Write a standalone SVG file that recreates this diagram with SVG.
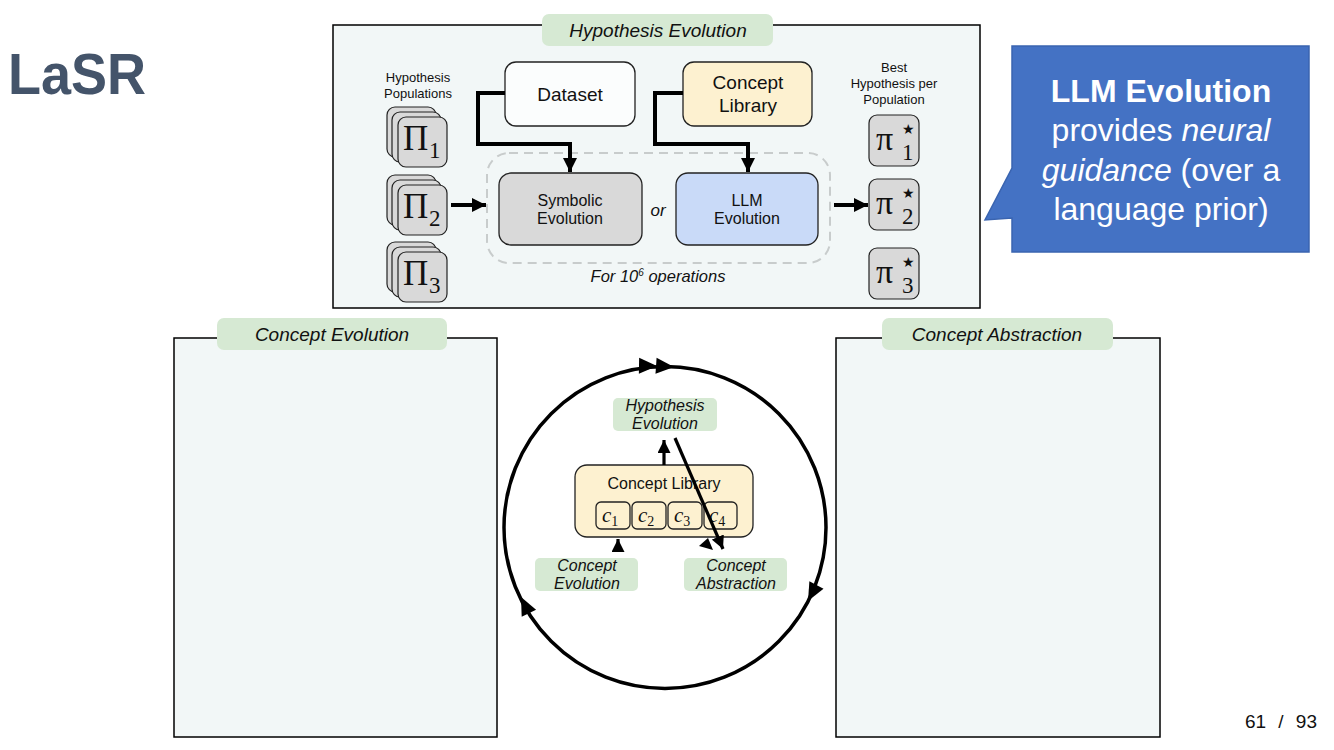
<svg xmlns="http://www.w3.org/2000/svg" width="1334" height="750" viewBox="0 0 1334 750">
<defs>
<style>
text{font-family:"Liberation Sans",Arial,sans-serif;fill:#111}
.panel{fill:#f2f7f7;stroke:#000;stroke-width:1.5}
.tab{fill:#d6e9d3}
.tabt{font-style:italic;font-size:19px;text-anchor:middle}
.box{stroke:#222;stroke-width:1.3}
.gray{fill:#d9d9d9}
.card{fill:#d9d9d9;stroke:#222;stroke-width:1.2}
.lib{fill:#fdf1d0}
.math{font-family:"Liberation Serif","DejaVu Serif",serif}
.small{font-size:13px;text-anchor:middle}
.mid{text-anchor:middle}
.thick{fill:none;stroke:#000;stroke-width:4}
.med{fill:none;stroke:#000;stroke-width:3.2}
.call{font-size:32px;fill:#fff;text-anchor:middle}
.it{font-style:italic}
.star{font-family:"DejaVu Sans",sans-serif;font-size:14px}
</style>
<marker id="ah" viewBox="0 0 10 10" refX="10" refY="5" markerWidth="14" markerHeight="14" markerUnits="userSpaceOnUse" orient="auto">
<path d="M0,0 L10,5 L0,10 z" fill="#000"/>
</marker>
<marker id="ahs" viewBox="0 0 10 10" refX="10" refY="5" markerWidth="13" markerHeight="13" markerUnits="userSpaceOnUse" orient="auto">
<path d="M0,0 L10,5 L0,10 z" fill="#000"/>
</marker>
<path id="cah" d="M0,0 L-18,-8 L-18,8 z" fill="#000"/>
</defs>
<rect width="1334" height="750" fill="#fff"/>

<g id="title"><text x="8" y="94" font-size="57" font-weight="bold" style="fill:#44546a" textLength="138" lengthAdjust="spacingAndGlyphs">LaSR</text></g>

<!-- Top panel -->
<g id="panel-hypothesis">
<rect class="panel" x="333" y="25" width="647" height="283"/>
<rect class="tab" x="542" y="14" width="231" height="32" rx="7"/>
<text class="tabt" x="658" y="37">Hypothesis Evolution</text>
</g>

<g id="label-populations">
<text class="small" x="418" y="82">Hypothesis</text>
<text class="small" x="418" y="98">Populations</text>
</g>

<g id="pi1">
<rect class="card" x="387" y="107" width="49" height="50" rx="8"/>
<rect class="card" x="392" y="112" width="49" height="50" rx="8"/>
<rect class="card" x="398" y="117" width="49" height="50" rx="8"/>
<text class="math" x="403" y="150" font-size="35">Π</text>
<text class="math" x="429" y="158" font-size="23">1</text>
</g>
<g id="pi2">
<rect class="card" x="387" y="175" width="49" height="50" rx="8"/>
<rect class="card" x="392" y="180" width="49" height="50" rx="8"/>
<rect class="card" x="398" y="185" width="49" height="50" rx="8"/>
<text class="math" x="403" y="218" font-size="35">Π</text>
<text class="math" x="429" y="226" font-size="23">2</text>
</g>
<g id="pi3">
<rect class="card" x="387" y="242" width="49" height="50" rx="8"/>
<rect class="card" x="392" y="247" width="49" height="50" rx="8"/>
<rect class="card" x="398" y="252" width="49" height="50" rx="8"/>
<text class="math" x="403" y="285" font-size="35">Π</text>
<text class="math" x="429" y="293" font-size="23">3</text>
</g>

<g id="dataset">
<rect class="box" x="505" y="62" width="130" height="64" rx="11" fill="#fbfdfd"/>
<text class="mid" x="570" y="101" font-size="19">Dataset</text>
</g>
<g id="concept-library">
<rect class="box lib" x="683" y="62" width="129" height="64" rx="11"/>
<text class="mid" x="748" y="89" font-size="19">Concept</text>
<text class="mid" x="748" y="112" font-size="19">Library</text>
</g>

<g id="loop">
<rect x="487" y="153" width="343" height="110" rx="22" fill="none" stroke="#c8cccc" stroke-width="2" stroke-dasharray="9 6"/>
<text class="mid it" x="658" y="282" font-size="16.5">For 10<tspan font-size="10" dy="-6">6</tspan><tspan dy="6"> operations</tspan></text>
</g>

<g id="symbolic">
<rect class="box gray" x="499" y="173" width="143" height="72" rx="12"/>
<text class="mid" x="570" y="206" font-size="16">Symbolic</text>
<text class="mid" x="570" y="224" font-size="16">Evolution</text>
</g>
<g id="or"><text class="mid it" x="658" y="216" font-size="17">or</text></g>
<g id="llm">
<rect class="box" x="676" y="173" width="142" height="72" rx="12" fill="#c9daf8"/>
<text class="mid" x="747" y="206" font-size="16">LLM</text>
<text class="mid" x="747" y="224" font-size="16">Evolution</text>
</g>

<g id="label-best">
<text class="small" x="894" y="72">Best</text>
<text class="small" x="894" y="88">Hypothesis per</text>
<text class="small" x="894" y="104">Population</text>
</g>
<g id="best1">
<rect class="card" x="869" y="115" width="50" height="51" rx="8"/>
<text class="math" x="876" y="150" font-size="34">π</text>
<text class="star" x="902" y="134">★</text>
<text class="math" x="902" y="160" font-size="23">1</text>
</g>
<g id="best2">
<rect class="card" x="869" y="179" width="50" height="51" rx="8"/>
<text class="math" x="876" y="214" font-size="34">π</text>
<text class="star" x="902" y="198">★</text>
<text class="math" x="902" y="224" font-size="23">2</text>
</g>
<g id="best3">
<rect class="card" x="869" y="248" width="50" height="51" rx="8"/>
<text class="math" x="876" y="283" font-size="34">π</text>
<text class="star" x="902" y="267">★</text>
<text class="math" x="902" y="293" font-size="23">3</text>
</g>

<!-- Callout -->
<g id="callout">
<path d="M1012,46 H1309 V252 H1012 V218 L985,220 L1012,168 Z" fill="#4472c4" stroke="#3a64b0" stroke-width="1.5"/>
<text class="call" x="1161" y="102" font-weight="bold">LLM Evolution</text>
<text class="call" x="1161" y="141">provides <tspan class="it">neural</tspan></text>
<text class="call" x="1161" y="181"><tspan class="it">guidance</tspan> (over a</text>
<text class="call" x="1161" y="220">language prior)</text>
</g>

<!-- Bottom panels -->
<g id="panel-concept-evolution">
<rect class="panel" x="174" y="338" width="323" height="399"/>
<rect class="tab" x="217" y="318" width="230" height="32" rx="7"/>
<text class="tabt" x="332" y="341">Concept Evolution</text>
</g>
<g id="panel-concept-abstraction">
<rect class="panel" x="836" y="338" width="324" height="399"/>
<rect class="tab" x="882" y="318" width="231" height="32" rx="7"/>
<text class="tabt" x="997" y="341">Concept Abstraction</text>
</g>

<!-- Circle diagram nodes -->
<g id="c-hyp">
<rect class="tab" x="613" y="398" width="104" height="33" rx="5"/>
<text class="mid it" x="665" y="411" font-size="16">Hypothesis</text>
<text class="mid it" x="665" y="429" font-size="16">Evolution</text>
</g>
<g id="c-lib">
<rect class="box lib" x="575" y="465" width="178" height="72" rx="12"/>
<text class="mid" x="664" y="489" font-size="16">Concept Library</text>
<rect class="box lib" x="596" y="502" width="34" height="27" rx="5"/>
<rect class="box lib" x="632" y="502" width="34" height="27" rx="5"/>
<rect class="box lib" x="668" y="502" width="34" height="27" rx="5"/>
<rect class="box lib" x="704" y="502" width="33" height="27" rx="5"/>
<text class="math it" x="602" y="522" font-size="21">c<tspan font-size="14" font-style="normal" dy="4">1</tspan></text>
<text class="math it" x="638" y="522" font-size="21">c<tspan font-size="14" font-style="normal" dy="4">2</tspan></text>
<text class="math it" x="674" y="522" font-size="21">c<tspan font-size="14" font-style="normal" dy="4">3</tspan></text>
<text class="math it" x="709" y="522" font-size="21">c<tspan font-size="14" font-style="normal" dy="4">4</tspan></text>
</g>
<g id="c-evo">
<rect class="tab" x="535" y="558" width="103" height="33" rx="5"/>
<text class="mid it" x="587" y="571" font-size="16">Concept</text>
<text class="mid it" x="587" y="589" font-size="16">Evolution</text>
</g>
<g id="c-abs">
<rect class="tab" x="684" y="558" width="103" height="33" rx="5"/>
<text class="mid it" x="736" y="571" font-size="16">Concept</text>
<text class="mid it" x="736" y="589" font-size="16">Abstraction</text>
</g>

<!-- Page number -->
<g id="page"><text x="1317" y="728" font-size="19" text-anchor="end" word-spacing="7">61 / 93</text></g>

<!-- Connectors -->
<g id="connectors">
<path class="thick" d="M505,93 H478 V144 H570 V172" marker-end="url(#ah)"/>
<path class="thick" d="M683,93 H655 V144 H748 V172" marker-end="url(#ah)"/>
<path class="thick" d="M451,205 H486" marker-end="url(#ah)"/>
<path class="thick" d="M834,205 H868" marker-end="url(#ah)"/>
<circle cx="665" cy="527.5" r="161" fill="none" stroke="#000" stroke-width="3.5"/>
<use href="#cah" transform="translate(657,366) rotate(1)"/>
<use href="#cah" transform="translate(674,367) rotate(4)"/>
<use href="#cah" transform="translate(808,601) rotate(118)"/>
<use href="#cah" transform="translate(521,597) rotate(-116)"/>
<path class="med" d="M664,465 V440" marker-end="url(#ahs)"/>
<path class="med" d="M675,438 L723,549" marker-end="url(#ahs)"/>
<path class="med" d="M618,552 V539" marker-end="url(#ahs)"/>
<path d="M713,550 L699,546 L708,538 z" fill="#000"/>
</g>
</svg>
